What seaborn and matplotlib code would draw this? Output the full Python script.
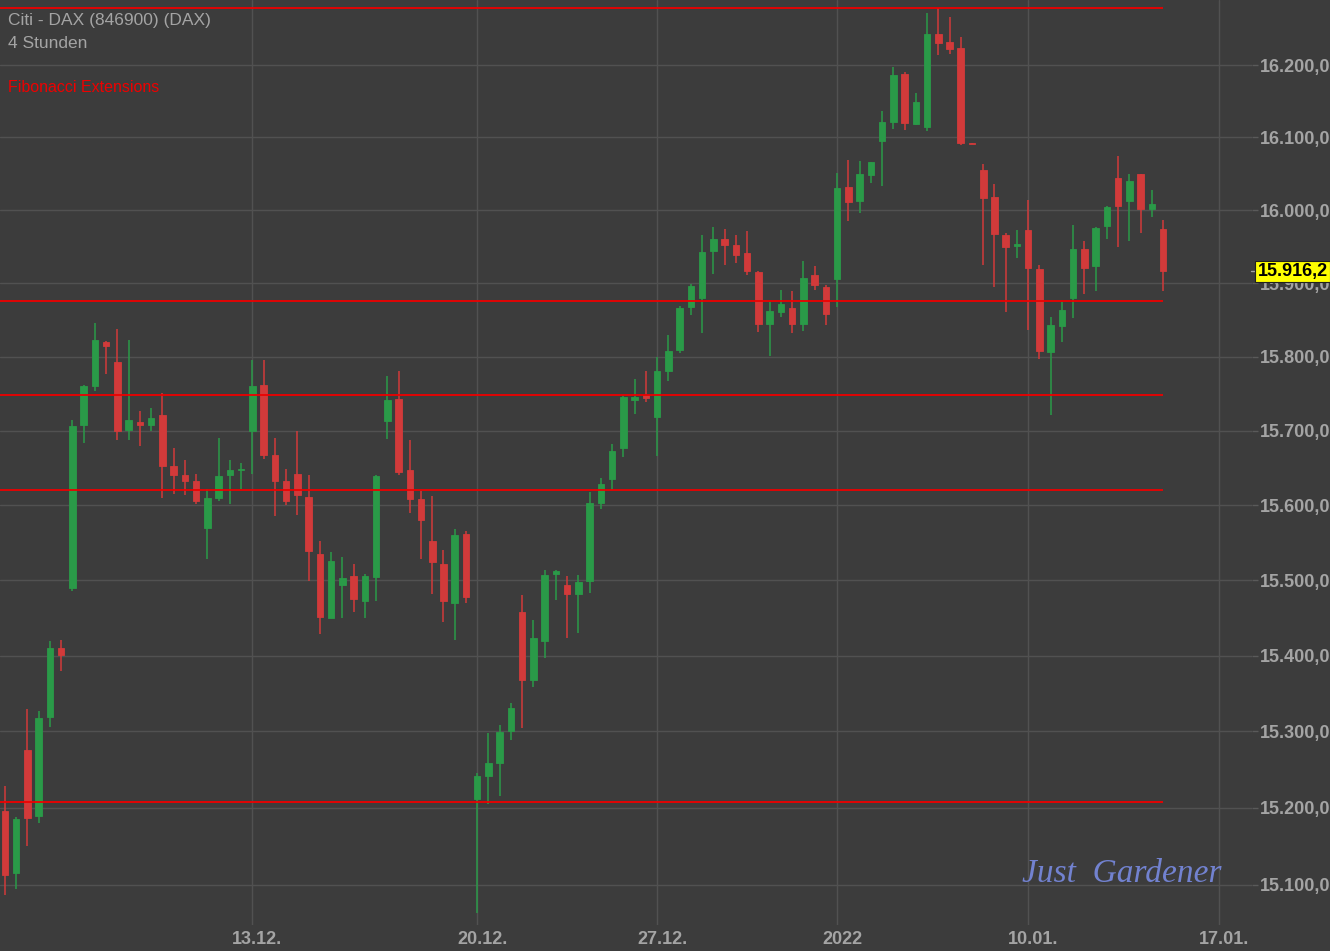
import numpy as np
import matplotlib
matplotlib.use("Agg")
import matplotlib.pyplot as plt
import matplotlib.transforms as mtransforms
import seaborn as sns

# 4h-Kerzen DAX
open_ = [15196, 15115, 15276, 15189, 15319, 15410, 15489, 15707, 15760, 15820,
         15793, 15701, 15711, 15707, 15721, 15653, 15641, 15633, 15569, 15609,
         15640, 15647, 15699, 15762, 15667, 15633, 15642, 15611, 15535, 15450,
         15493, 15506, 15472, 15504, 15713, 15743, 15647, 15608, 15552, 15522,
         15469, 15562, 15211, 15242, 15259, 15300, 15458, 15368, 15419, 15508,
         15494, 15481, 15499, 15603, 15635, 15676, 15742, 15748, 15719, 15781,
         15809, 15868, 15880, 15944, 15960, 15952, 15941, 15915, 15844, 15860,
         15866, 15844, 15911, 15895, 15906, 16032, 16013, 16048, 16095, 16121,
         16188, 16119, 16115, 16243, 16232, 16224, 16092, 16055, 16018, 15966,
         15951, 15972, 15919, 15806, 15842, 15880, 15946, 15924, 15978, 16044,
         16013, 16049, 16002, 15974]
high = [15228, 15188, 15330, 15327, 15419, 15421, 15714, 15762, 15846, 15821,
        15838, 15823, 15727, 15731, 15751, 15676, 15660, 15642, 15622, 15690,
        15660, 15656, 15796, 15795, 15690, 15648, 15699, 15640, 15552, 15537,
        15531, 15522, 15508, 15640, 15774, 15780, 15688, 15619, 15612, 15540,
        15568, 15565, 15245, 15298, 15309, 15338, 15480, 15447, 15514, 15514,
        15506, 15507, 15618, 15636, 15682, 15747, 15770, 15780, 15800, 15829,
        15869, 15899, 15966, 15977, 15974, 15966, 15971, 15917, 15874, 15890,
        15889, 15930, 15924, 15898, 16051, 16069, 16067, 16066, 16137, 16198,
        16190, 16161, 16273, 16280, 16267, 16240, 16093, 16063, 16036, 15968,
        15972, 16014, 15925, 15854, 15874, 15979, 15958, 15977, 16005, 16075,
        16049, 16049, 16027, 15987]
low = [15087, 15094, 15150, 15180, 15306, 15380, 15486, 15684, 15754, 15777,
       15688, 15688, 15680, 15699, 15610, 15615, 15613, 15601, 15528, 15605,
       15601, 15621, 15642, 15662, 15586, 15600, 15587, 15499, 15429, 15449,
       15450, 15457, 15449, 15472, 15689, 15640, 15589, 15528, 15482, 15445,
       15421, 15469, 15064, 15205, 15216, 15289, 15304, 15359, 15397, 15473,
       15423, 15430, 15483, 15595, 15620, 15664, 15723, 15739, 15666, 15767,
       15805, 15857, 15832, 15912, 15925, 15927, 15911, 15834, 15801, 15854,
       15832, 15835, 15891, 15843, 15868, 15985, 15996, 16037, 16033, 16111,
       16110, 16117, 16109, 16214, 16216, 16089, 16091, 15925, 15895, 15860,
       15934, 15836, 15797, 15721, 15820, 15852, 15885, 15889, 15961, 15949,
       15957, 15969, 15990, 15889]
close = [15113, 15185, 15187, 15318, 15410, 15401, 15706, 15760, 15822, 15814,
         15699, 15714, 15707, 15717, 15653, 15640, 15632, 15605, 15609, 15639,
         15647, 15649, 15760, 15667, 15633, 15605, 15614, 15539, 15451, 15525,
         15503, 15475, 15506, 15639, 15741, 15644, 15608, 15580, 15524, 15472,
         15560, 15477, 15242, 15258, 15299, 15331, 15368, 15423, 15507, 15512,
         15481, 15498, 15603, 15628, 15673, 15745, 15745, 15744, 15780, 15808,
         15866, 15896, 15943, 15960, 15952, 15938, 15917, 15844, 15862, 15872,
         15844, 15907, 15897, 15858, 16030, 16011, 16049, 16066, 16121, 16186,
         16120, 16149, 16243, 16231, 16223, 16093, 16091, 16017, 15967, 15949,
         15953, 15920, 15808, 15843, 15864, 15946, 15920, 15976, 16004, 16006,
         16040, 16002, 16009, 15916]

# Datums-Achse (Index der Kerze)
date_idx = [22, 42, 58, 74, 91, 108]
date_labels = ["13.12.", "20.12.", "27.12.", "2022", "10.01.", "17.01."]

y_ticks = [15100, 15200, 15300, 15400, 15500, 15600, 15700, 15800, 15900, 16000, 16100, 16200]

# Fibonacci Linien
fib_levels = [16280, 15875, 15748, 15620, 15208]
last_price = 15916.2

bg = "#3c3c3c"
green = "#2a9a48"
red = "#d23a3a"
txt = "#a4a4a4"
fib_red = "#ee0000"

sns.set_theme(style="dark", rc={"axes.facecolor": bg, "figure.facecolor": bg,
                                "grid.color": "#515151", "grid.linewidth": 1.0})
plt.rcParams["font.family"] = ["Liberation Sans", "DejaVu Sans"]


def de_fmt(v, dec):
    s = f"{v:,.{dec}f}"
    return s.replace(",", "X").replace(".", ",").replace("X", ".")


fig = plt.figure(figsize=(13.3, 9.51), dpi=100)
ax = fig.add_axes([0, 1 - 925 / 951, 1252 / 1330, 925 / 951])

o = np.array(open_)
c = np.array(close)
x = np.arange(len(c))
cols = np.where(c >= o, green, red)

ax.vlines(x, low, high, colors=cols, lw=1.1, zorder=3)
ax.bar(x, np.maximum(np.abs(c - o), 1.5), bottom=np.minimum(o, c), width=0.58,
       color=cols, edgecolor=cols, lw=0.6, zorder=4)

x_left = -0.44
ax.hlines(fib_levels, x_left, x[-1], colors=fib_red, lw=1.3, zorder=5)

ax.set_yscale("log")
ax.set_xlim(x_left, 110.9)
ax.set_ylim(15048, 16291)
ax.set_yticks([], minor=True)
ax.set_yticks(y_ticks, labels=[de_fmt(v, 2) for v in y_ticks],
              fontsize=13, fontweight="bold", color=txt)
ax.set_xticks(date_idx, labels=date_labels, fontsize=13, fontweight="bold", color=txt)
ax.yaxis.tick_right()
ax.tick_params(axis="y", length=4.5, width=1, color="#5a5a5a", pad=1.5, right=True, left=False)
ax.tick_params(axis="x", length=0, pad=4)
shift = mtransforms.ScaledTranslation(5 / 100, 0, fig.dpi_scale_trans)
for lbl in ax.get_xticklabels():
    lbl.set_transform(lbl.get_transform() + shift)
ax.grid(True, axis="both")
for s in ax.spines.values():
    s.set_visible(False)

# aktueller Kurs
trans = mtransforms.blended_transform_factory(ax.transAxes, ax.transData)
ax.plot([0.9995, 1.003], [last_price, last_price], transform=trans, color=txt, lw=1, clip_on=False)
ax.text(1.0045, last_price, de_fmt(last_price, 1), transform=trans, va="center", ha="left",
        fontsize=13, fontweight="bold", color="black", clip_on=False, zorder=10,
        bbox=dict(boxstyle="square,pad=0.12", fc="#ffff00", ec="#202020", lw=0.8))

fig.text(8 / 1330, 1 - 21 / 951, "Citi - DAX (846900) (DAX)", va="center", fontsize=12.5, color=txt)
fig.text(8 / 1330, 1 - 44 / 951, "4 Stunden", va="center", fontsize=12.5, color=txt)
fig.text(8 / 1330, 1 - 88 / 951, "Fibonacci Extensions", va="center", fontsize=11.5, color=fib_red)
fig.text(1222 / 1330, 1 - 882 / 951, "Just  Gardener", ha="right", va="baseline", fontsize=24,
         style="italic", family="Liberation Serif", color="#7282d0")

fig.savefig("out.png", dpi=100, facecolor=bg)
